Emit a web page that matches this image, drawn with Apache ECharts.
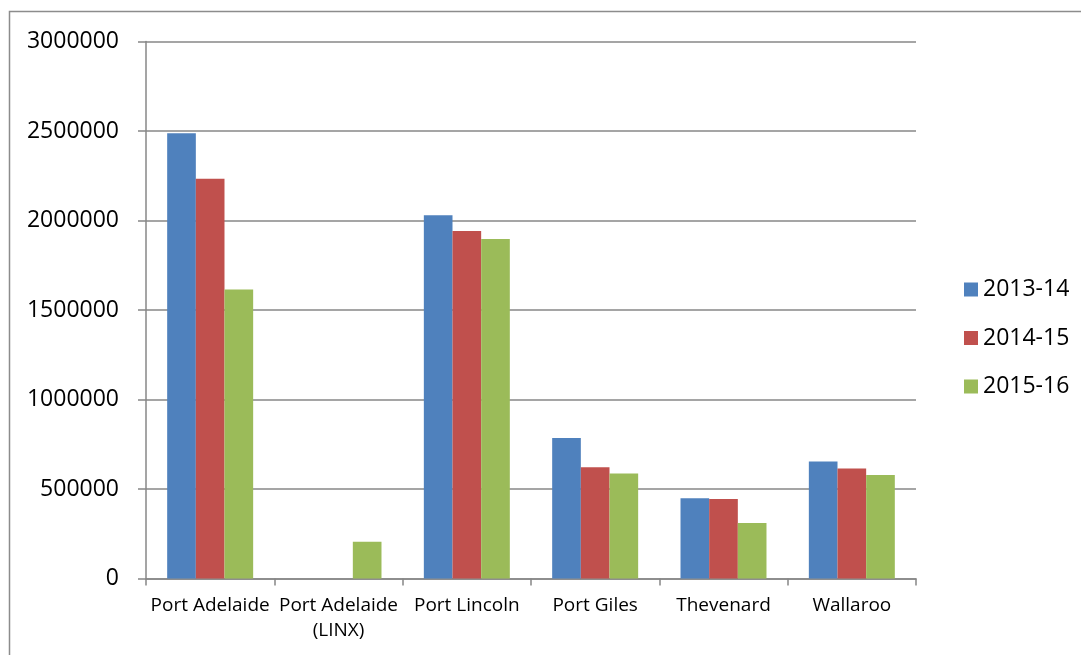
<!DOCTYPE html>
<html>
<head>
<meta charset="utf-8">
<script src="https://cdn.jsdelivr.net/npm/echarts@6/dist/echarts.min.js"></script>
<style>
html,body{margin:0;padding:0;background:#fff;}
#c{width:1081px;height:655px;}
</style>
</head>
<body>
<div id="c"></div>
<script>
const categories = ['Port Adelaide', 'Port Adelaide\n(LINX)', 'Port Lincoln', 'Port Giles', 'Thevenard', 'Wallaroo'];
const seriesNames = ['2013-14', '2014-15', '2015-16'];
const values2013 = [2487000, 0, 2030000, 785000, 448000, 653000];
const values2014 = [2233000, 0, 1941000, 621000, 444000, 615000];
const values2015 = [1615000, 205000, 1896000, 587000, 310000, 578000];
const yTicks = [0, 500000, 1000000, 1500000, 2000000, 2500000, 3000000];
const colors = ['#4F81BD', '#C0504D', '#9BBB59'];

const chart = echarts.init(document.getElementById('c'), null, {renderer: 'canvas'});
const allValues = [values2013, values2014, values2015];
chart.setOption({
  animation: false,
  color: colors,
  textStyle: {fontFamily: 'Open Sans', color: '#000'},
  graphic: [{
    type: 'rect',
    shape: {x: 9.5, y: 11.5, width: 1200, height: 800},
    style: {fill: 'none', stroke: '#8c8c8c', lineWidth: 1.5},
    silent: true
  }],
  grid: {left: 146, right: 165, top: 41.5, bottom: 76.5, containLabel: false},
  legend: {
    orient: 'vertical',
    left: 959,
    top: 273,
    itemWidth: 14,
    itemHeight: 14,
    itemGap: 25.5,
    icon: 'rect',
    data: seriesNames,
    textStyle: {fontSize: 23, color: '#000', fontFamily: 'Open Sans'}
  },
  xAxis: {
    type: 'category',
    data: categories,
    axisLine: {lineStyle: {color: '#878787', width: 1.5}},
    axisTick: {show: true, length: 7, lineStyle: {color: '#878787', width: 1.5}},
    axisLabel: {fontSize: 19, color: '#000', margin: 15, lineHeight: 25, interval: 0, fontFamily: 'Open Sans'}
  },
  yAxis: {
    type: 'value',
    min: yTicks[0],
    max: yTicks[yTicks.length - 1],
    interval: yTicks[1] - yTicks[0],
    axisLine: {show: true, lineStyle: {color: '#878787', width: 1.5}},
    axisTick: {show: true, length: 8, lineStyle: {color: '#878787', width: 1.5}},
    splitLine: {show: true, lineStyle: {color: '#878787', width: 1.5}},
    axisLabel: {fontSize: 23, color: '#000', margin: 27, fontFamily: 'Open Sans', formatter: v => String(v)}
  },
  series: seriesNames.map((n, i) => ({
    name: n,
    type: 'bar',
    data: allValues[i],
    barGap: '0%',
    barCategoryGap: '33%',
    itemStyle: {color: colors[i]}
  }))
});
</script>
</body>
</html>
